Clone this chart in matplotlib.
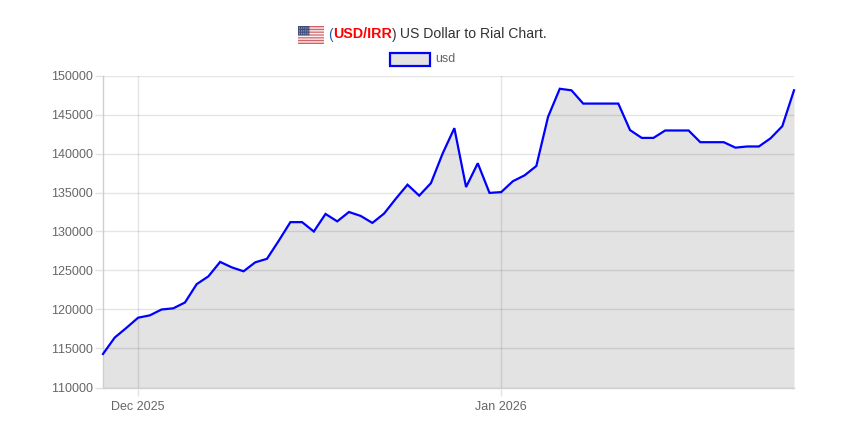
import matplotlib
matplotlib.use('Agg')
import matplotlib.pyplot as plt
from matplotlib.patches import Rectangle
import numpy as np
import pandas as pd

plt.rcParams['font.family'] = ['Liberation Sans', 'DejaVu Sans']
plt.rcParams['text.kerning_factor'] = 6

W, H = 846, 434

# one reading per day
days = pd.date_range('2025-11-28', periods=60, freq='D')
usd = [114300, 116400, 117650, 118950, 119250, 120000, 120150, 120900, 123250, 124250,
       126100, 125400, 124900, 126050, 126500, 128800, 131200, 131200, 130000, 132250,
       131300, 132500, 132000, 131100, 132300, 134200, 136000, 134600, 136200, 140000,
       143250, 135700, 138750, 134950, 135050, 136450, 137200, 138400, 144700, 148300,
       148100, 146400, 146400, 146400, 146400, 143000, 142000, 142000, 142950, 142950,
       142950, 141450, 141450, 141450, 140750, 140900, 140900, 141950, 143500, 148100]
y_ticks = [110000, 115000, 120000, 125000, 130000, 135000, 140000, 145000, 150000]
x_ticks = ['2025-12-01', '2026-01-01']
x_labels = ['Dec 2025', 'Jan 2026']

fig = plt.figure(figsize=(W / 100, H / 100), dpi=100)
ax = fig.add_axes([103 / W, 1 - 387.5 / H, 691 / W, 312 / H])

ax.fill_between(days, usd, 110000, color='#e3e3e3', lw=0, zorder=1)
ax.plot(days, usd, color='#0000ff', lw=1.6, solid_joinstyle='miter', zorder=3, clip_on=False)

ax.set_xlim(days[0], days[-1])
ax.set_ylim(110000, 150000)
ax.set_yticks(y_ticks)
ax.set_xticks(pd.to_datetime(x_ticks))
ax.set_xticklabels(x_labels)
ax.grid(True, color='black', alpha=0.1, lw=1, zorder=2)
ax.set_axisbelow(False)
ax.tick_params(axis='both', length=6, width=1, color='#e2e2e2', labelcolor='#666666', labelsize=9, pad=1.5)
ax.tick_params(axis='x', pad=3.7)
for side in ['top', 'right']:
    ax.spines[side].set_visible(False)
for side in ['left', 'bottom']:
    ax.spines[side].set_color('#cfcfcf')
    ax.spines[side].set_linewidth(1)

# flag next to the title
flag = fig.add_axes([298 / W, 1 - 44 / H, 25.5 / W, 18 / H])
stripes = np.ones((13, 25, 3))
stripes[::2] = [0.82, 0.38, 0.40]
stripes[:7, :11] = [0.26, 0.30, 0.48]
stripes[1:7:2, 1:11:2] = [0.62, 0.64, 0.75]
flag.imshow(stripes, aspect='auto', interpolation='bilinear')
flag.axis('off')

# title built piece by piece, the colours change inside it
renderer = fig.canvas.get_renderer()
title_parts = [('(', '#1f5fa8', 'normal', 9.75), ('USD/IRR', '#ff0000', 'bold', 10.3),
               (')', '#333333', 'normal', 9.75), (' US Dollar to Rial Chart.', '#333333', 'normal', 10.05)]
x = 328
for part, col, weight, size in title_parts:
    t = fig.text(x / W, 1 - 34.5 / H, part, color=col, fontweight=weight, fontsize=size, va='center', ha='left')
    x = t.get_window_extent(renderer).x1

# legend
fig.add_artist(Rectangle((389.5 / W, 1 - 66 / H), 40 / W, 13 / H, transform=fig.transFigure,
                         facecolor='#e3e3e3', edgecolor='#0000ff', lw=1.6))
fig.text(435 / W, 1 - 59 / H, 'usd', color='#666666', fontsize=9, va='center', ha='left')

fig.savefig('out.png', dpi=100)
